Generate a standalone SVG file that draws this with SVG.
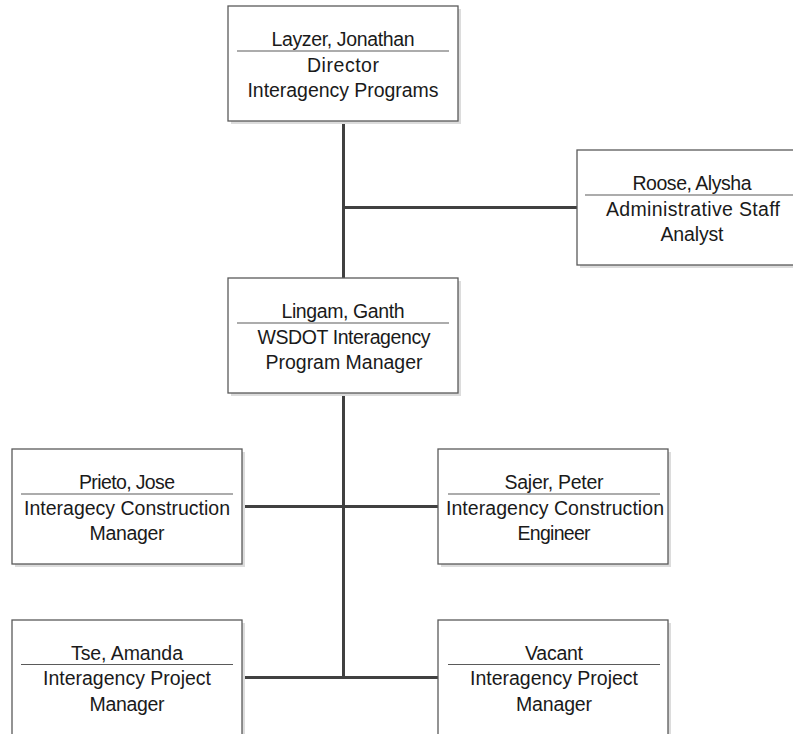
<svg xmlns="http://www.w3.org/2000/svg" width="793" height="734" viewBox="0 0 793 734">
<style>
.bg{fill:#ffffff}
.shadow{fill:#dcdcdc}
.box{fill:#ffffff;stroke:#5a5a5a;stroke-width:1.3}
.div{stroke:#5a5a5a;stroke-width:1.2}
.conn{stroke:#404040;stroke-width:3;fill:none}
text{font-family:"Liberation Sans",Arial,sans-serif;font-size:19.5px;fill:#1a1a1a;text-anchor:middle}
</style>
<rect class="bg" x="0" y="0" width="793" height="734"/>
<g id="connectors">
<line class="conn" x1="343.5" y1="121" x2="343.5" y2="278"/>
<line class="conn" x1="343.5" y1="207.5" x2="577" y2="207.5"/>
<line class="conn" x1="343.5" y1="393" x2="343.5" y2="679"/>
<line class="conn" x1="242" y1="506.5" x2="438" y2="506.5"/>
<line class="conn" x1="242" y1="677.5" x2="438" y2="677.5"/>
</g>
<g id="layzer">
<rect class="shadow" x="231" y="9" width="230" height="115"/>
<rect class="box" x="228" y="6" width="230" height="115"/>
<line class="div" x1="237" y1="51" x2="449" y2="51"/>
<text x="343" y="46" textLength="143" lengthAdjust="spacing">Layzer, Jonathan</text>
<text x="343" y="72" textLength="72" lengthAdjust="spacing">Director</text>
<text x="343" y="97" textLength="191" lengthAdjust="spacing">Interagency Programs</text>
</g>
<g id="roose">
<rect class="shadow" x="580" y="153" width="230" height="115"/>
<rect class="box" x="577" y="150" width="230" height="115"/>
<line class="div" x1="585" y1="195" x2="800" y2="195"/>
<text x="692" y="190" textLength="119" lengthAdjust="spacing">Roose, Alysha</text>
<text x="693" y="216" textLength="174" lengthAdjust="spacing">Administrative Staff</text>
<text x="692" y="241" textLength="63" lengthAdjust="spacing">Analyst</text>
</g>
<g id="lingam">
<rect class="shadow" x="231" y="281" width="230" height="115"/>
<rect class="box" x="228" y="278" width="230" height="115"/>
<line class="div" x1="237" y1="323" x2="449" y2="323"/>
<text x="343" y="318" textLength="123" lengthAdjust="spacing">Lingam, Ganth</text>
<text x="344" y="344" textLength="173" lengthAdjust="spacing">WSDOT Interagency</text>
<text x="344" y="369" textLength="157" lengthAdjust="spacing">Program Manager</text>
</g>
<g id="prieto">
<rect class="shadow" x="15" y="452" width="230" height="115"/>
<rect class="box" x="12" y="449" width="230" height="115"/>
<line class="div" x1="21" y1="494" x2="233" y2="494"/>
<text x="127" y="489" textLength="96" lengthAdjust="spacing">Prieto, Jose</text>
<text x="127" y="515" textLength="206" lengthAdjust="spacing">Interagecy Construction</text>
<text x="127" y="540" textLength="75" lengthAdjust="spacing">Manager</text>
</g>
<g id="sajer">
<rect class="shadow" x="441" y="452" width="230" height="115"/>
<rect class="box" x="438" y="449" width="230" height="115"/>
<line class="div" x1="448" y1="494" x2="660" y2="494"/>
<text x="554" y="489" textLength="99" lengthAdjust="spacing">Sajer, Peter</text>
<text x="555" y="515" textLength="218" lengthAdjust="spacing">Interagency Construction</text>
<text x="554" y="540" textLength="73" lengthAdjust="spacing">Engineer</text>
</g>
<g id="tse">
<rect class="shadow" x="15" y="623" width="230" height="115"/>
<rect class="box" x="12" y="620" width="230" height="115"/>
<line class="div" x1="21" y1="664.5" x2="233" y2="664.5"/>
<text x="127" y="660" textLength="112" lengthAdjust="spacing">Tse, Amanda</text>
<text x="127" y="685" textLength="168" lengthAdjust="spacing">Interagency Project</text>
<text x="127" y="711" textLength="75" lengthAdjust="spacing">Manager</text>
</g>
<g id="vacant">
<rect class="shadow" x="441" y="623" width="230" height="115"/>
<rect class="box" x="438" y="620" width="230" height="115"/>
<line class="div" x1="448" y1="664.5" x2="660" y2="664.5"/>
<text x="554" y="660" textLength="58" lengthAdjust="spacing">Vacant</text>
<text x="554" y="685" textLength="168" lengthAdjust="spacing">Interagency Project</text>
<text x="554" y="711" textLength="76" lengthAdjust="spacing">Manager</text>
</g>
</svg>
